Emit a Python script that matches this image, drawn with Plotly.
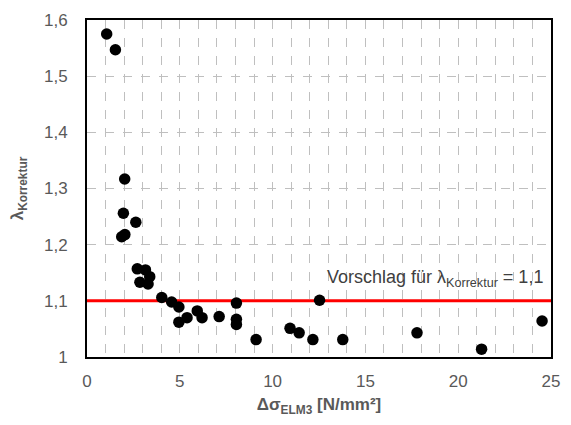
import plotly.graph_objects as go

# Measured correction factors vs. stress range
delta_sigma = [1.06, 1.53, 2.03, 1.96, 2.63, 1.87, 2.04, 2.71, 3.15, 3.38, 2.85, 3.29,
               4.03, 4.56, 4.95, 4.95, 5.39, 5.94, 6.20, 7.12, 8.05, 8.05, 8.05, 9.11,
               10.94, 11.43, 12.17, 12.53, 13.78, 17.78, 21.26, 24.52]
lambda_korr = [1.575, 1.547, 1.317, 1.256, 1.240, 1.214, 1.218, 1.157, 1.155, 1.143, 1.133, 1.130,
               1.106, 1.098, 1.089, 1.062, 1.070, 1.082, 1.070, 1.072, 1.096, 1.067, 1.058, 1.031,
               1.051, 1.043, 1.031, 1.101, 1.031, 1.043, 1.014, 1.064]

proposal_value = 1.1
x_range = [0, 25]

x_tickvals = [0, 5, 10, 15, 20, 25]
x_ticktext = ["0", "5", "10", "15", "20", "25"]
y_tickvals = [1.0, 1.1, 1.2, 1.3, 1.4, 1.5, 1.6]
y_ticktext = ["1", "1,1", "1,2", "1,3", "1,4", "1,5", "1,6"]

font_family = "Liberation Sans, Arial, sans-serif"
gray = "#595959"

fig = go.Figure()

fig.add_trace(go.Scatter(
    x=x_range, y=[proposal_value, proposal_value], mode="lines",
    line=dict(color="#ff0000", width=3), showlegend=False, hoverinfo="skip",
))

fig.add_trace(go.Scatter(
    x=delta_sigma, y=lambda_korr, mode="markers",
    marker=dict(color="black", size=11.5), showlegend=False,
))

fig.add_annotation(
    x=24.65, y=1.14, xref="x", yref="y", xanchor="right", yanchor="middle",
    text="Vorschlag für λ<sub>Korrektur</sub> = 1,1", showarrow=False,
    font=dict(family=font_family, size=18, color="#404040"),
)

grid = dict(gridcolor="#bfbfbf", griddash="dash", gridwidth=1)

fig.update_layout(
    width=571, height=425,
    margin=dict(l=87, r=11, t=17, b=68),
    paper_bgcolor="white", plot_bgcolor="white",
    font=dict(family=font_family, size=17, color=gray),
    xaxis=dict(
        range=x_range, tickvals=x_tickvals, ticktext=x_ticktext,
        showgrid=True, **grid,
        minor=dict(dtick=1, showgrid=True, gridcolor="#bfbfbf", griddash="dash", gridwidth=1),
        showline=True, linecolor="black", linewidth=2, mirror=True,
        ticks="", zeroline=False, ticklabelstandoff=8,
        title=dict(text="<b>Δσ<sub>ELM3</sub> [N/mm²]</b>", font=dict(size=17, color=gray), standoff=8),
    ),
    yaxis=dict(
        range=[1.0, 1.6], tickvals=y_tickvals, ticktext=y_ticktext,
        showgrid=True, **grid,
        showline=True, linecolor="black", linewidth=2, mirror=True,
        ticks="", zeroline=False, ticklabelstandoff=14,
        title=dict(text="<b>λ<sub>Korrektur</sub></b>", font=dict(size=17, color=gray), standoff=16),
    ),
)

fig.write_html("out.html")
